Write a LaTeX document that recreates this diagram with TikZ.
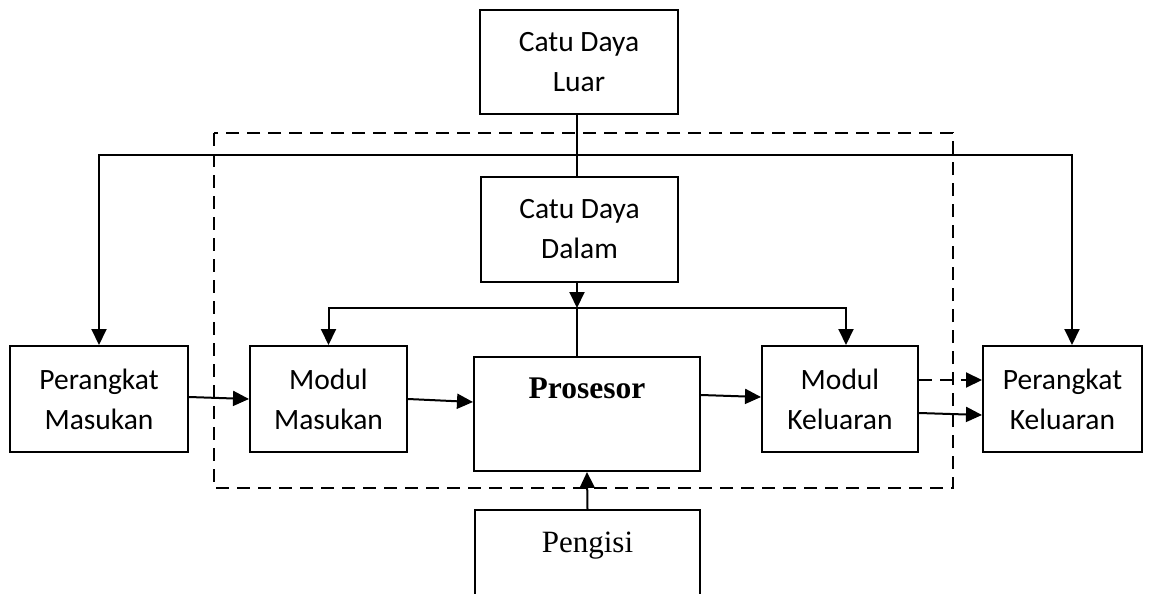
\documentclass[tikz,border=0pt]{standalone}
\usepackage{fontspec}
\setmainfont{Liberation Serif}
\newfontfamily\carlito{Carlito}
\usetikzlibrary{arrows.meta,calc}
\begin{document}
\begin{tikzpicture}[x=1pt,y=-1pt,
  box/.style={draw, line width=2pt, inner sep=0pt, align=center, font=\carlito\fontsize{29.5}{40}\selectfont},
  conn/.style={line width=2pt},
  arr/.style={line width=2pt, -{Triangle[length=16pt,width=15pt]}},
  dashline/.style={line width=2pt, dash pattern=on 13pt off 8pt}]
\useasboundingbox (0,0) rectangle (1152,594);
\clip (0,0) rectangle (1152,594);
\fill[white] (0,0) rectangle (1152,594);
\draw[dashline] (214,133) rectangle (953,488);
\node[box, minimum width=198pt, minimum height=104pt] (cdl) at (579,62) {Catu Daya\\Luar};
\node[box, minimum width=197pt, minimum height=105pt] (cdd) at (579.5,229.5) {Catu Daya\\Dalam};
\node[box, minimum width=178pt, minimum height=106pt] (pm) at (99,399) {Perangkat\\Masukan};
\node[box, minimum width=157pt, minimum height=106pt] (mm) at (328.5,399) {Modul\\Masukan};
\node[box, minimum width=226pt, minimum height=114pt, font=\bfseries\fontsize{31.5}{52}\selectfont] (pro) at (587,414) {Prosesor\\~};
\node[box, minimum width=156pt, minimum height=106pt] (mk) at (840,399) {Modul\\Keluaran};
\node[box, minimum width=159pt, minimum height=106pt] (pk) at (1062.5,399) {Perangkat\\Keluaran};
\node[box, minimum width=225pt, minimum height=120pt, font=\fontsize{31}{36}\selectfont] (peng) at (587.5,570) {Pengisi\\[20pt]~};
\coordinate (bus1) at (577,155);
\coordinate (bus2) at (577,308);
\draw[conn] (cdl.south -| bus1) -- (cdd.north -| bus1);
\draw[arr] (bus1) -| (pm.north);
\draw[arr] (bus1) -| ([xshift=9.5pt]pk.north);
\draw[arr] (cdd.south -| bus2) -- (bus2);
\draw[arr] (bus2) -| (mm.north);
\draw[arr] (bus2) -| ([xshift=6pt]mk.north);
\draw[conn] (bus2) -- (bus2 |- pro.north);
\draw[arr] ([yshift=2pt]pm.east) -- (mm.west);
\draw[arr] (mm.east) -- ([yshift=12pt]pro.west);
\draw[arr] ([yshift=19pt]pro.east) -- ([yshift=2pt]mk.west);
\draw[arr, dash pattern=on 13pt off 8pt] ([yshift=19pt]mk.east) -- ([yshift=19pt]pk.west);
\draw[arr] ([yshift=-14pt]mk.east) -- ([yshift=-16pt]pk.west);
\draw[arr] (peng.north) -- (pro.south);
\end{tikzpicture}
\end{document}
